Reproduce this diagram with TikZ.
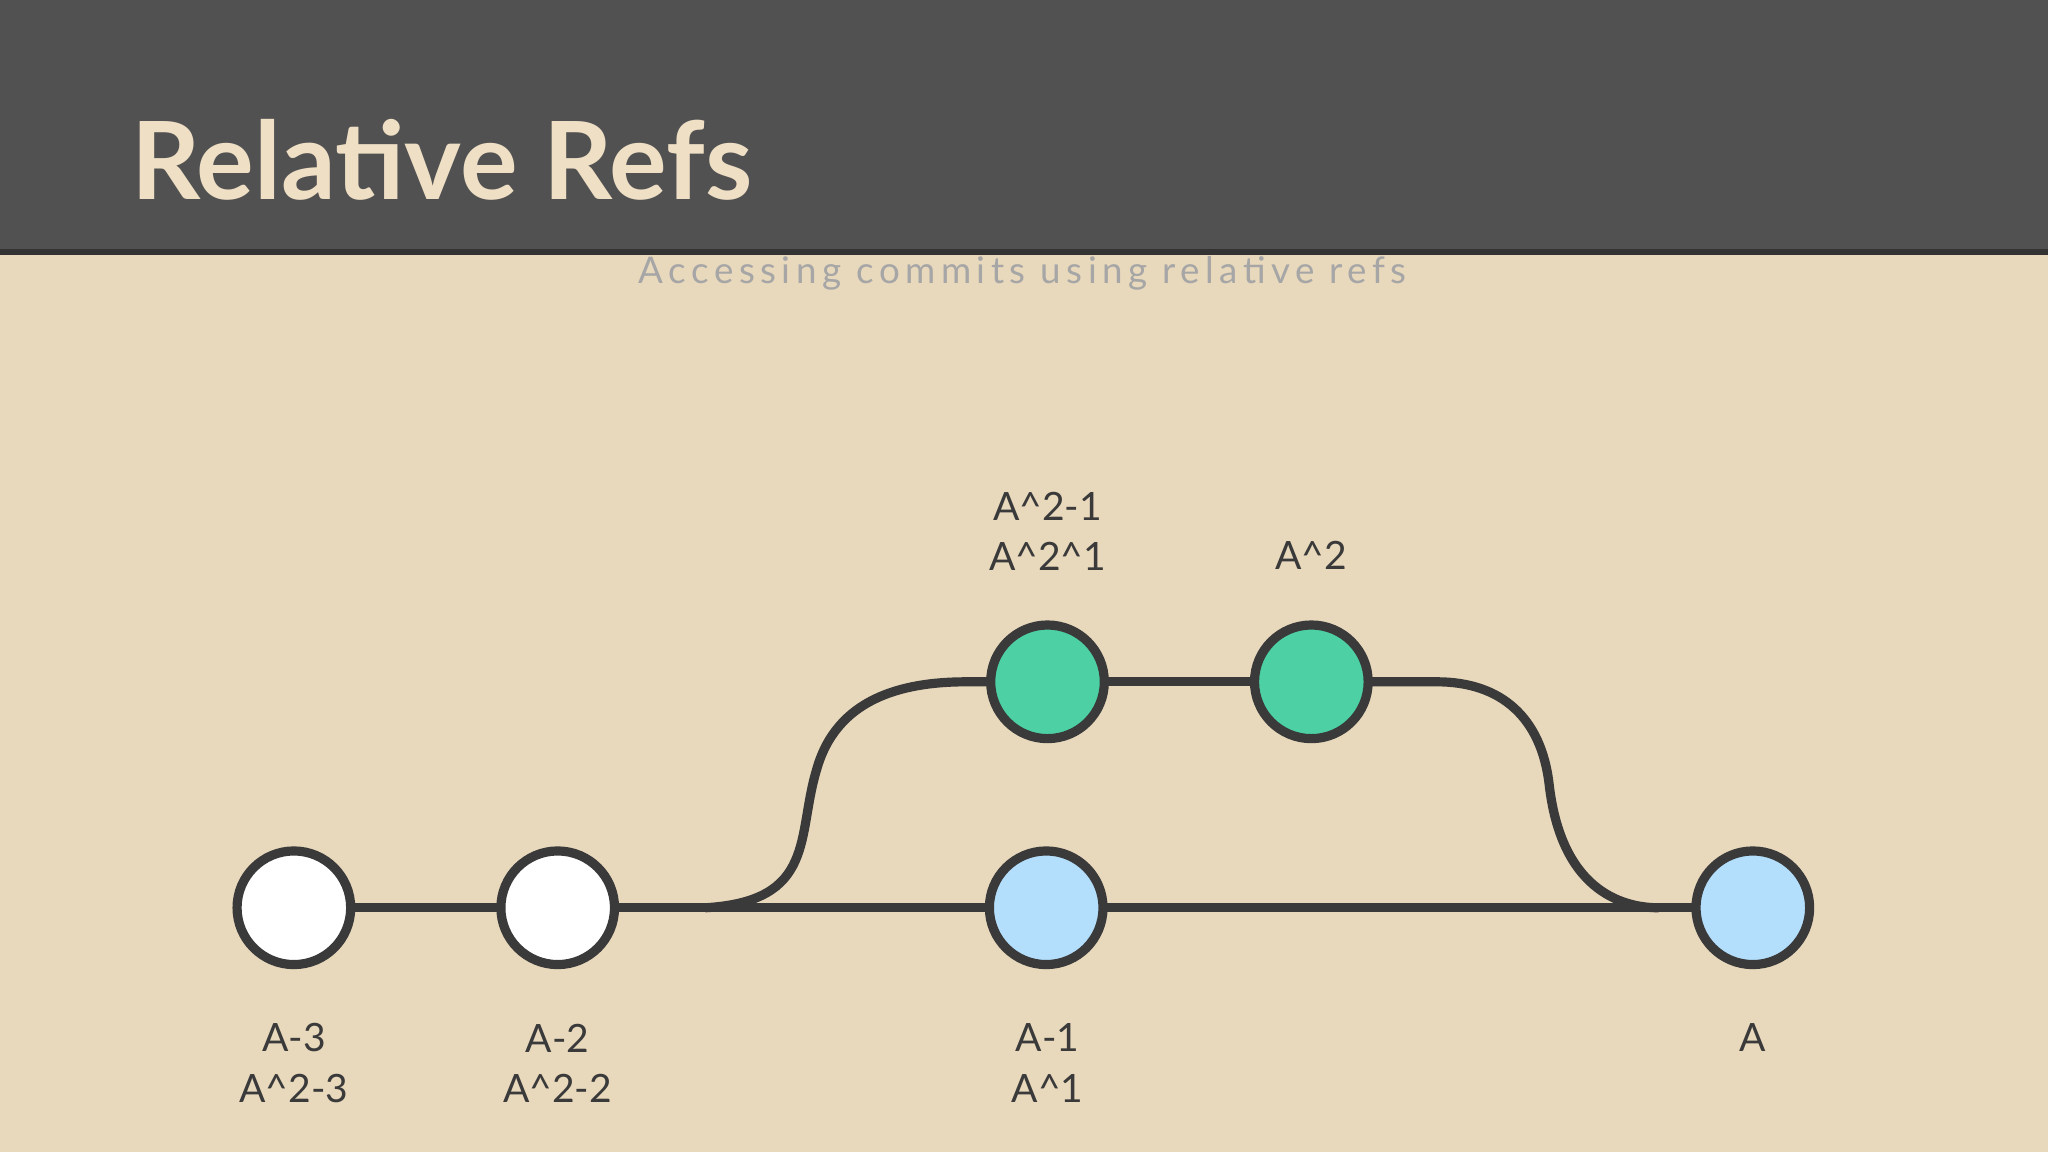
\documentclass[tikz,border=0pt]{standalone}
\usepackage{fontspec}
\setmainfont{Lato}
\definecolor{bg}{HTML}{E8D8BC}
\definecolor{hdr}{HTML}{525152}
\definecolor{ttl}{HTML}{EEDFC5}
\definecolor{ln}{HTML}{3A3A3A}
\definecolor{grn}{HTML}{4CD0A4}
\definecolor{blu}{HTML}{B3DEFC}
\begin{document}
\begin{tikzpicture}[x=0.1mm,y=-0.1mm,
  commit/.style={circle,draw=ln,line width=2pt,minimum size=8.7mm,inner sep=0pt},
  edge/.style={draw=ln,line width=2pt},
  lbl/.style={text=ln,font=\fontsize{8.5}{11}\selectfont,align=center}]
\fill[bg] (0,0) rectangle (1568,882);
\fill[hdr] (0,0) rectangle (1568,191);
\fill[black!80] (0,191) rectangle (1568,195);
\node[anchor=west,text=ttl,font=\fontsize{23.5}{28}\selectfont\bfseries] (title) at (88,122) {Relative Refs};
\node[text=black!35,font=\fontsize{8}{10}\selectfont] (sub) at (783,209) {\addfontfeature{LetterSpace=15}Accessing commits using relative refs};
\coordinate (l1) at (540,695);
\coordinate (r1) at (1270,695);
\draw[edge] (l1) .. controls (625,690) and (610,640) .. (625,590) .. controls (640,535) and (690,522) .. (740,522) -- (802,522);
\draw[edge] (1004,522) -- (1100,522) .. controls (1150,522) and (1180,550) .. (1186,600) .. controls (1195,680) and (1240,695) .. (r1);
\draw[edge] (225,695) -- (1342,695);
\draw[edge] (802,522) -- (1004,522);
\node[commit,fill=white] (a3) at (225,695) {};
\node[commit,fill=white] (a2) at (427,695) {};
\node[commit,fill=blu] (a1) at (801,695) {};
\node[commit,fill=blu] (a) at (1342,695) {};
\node[commit,fill=grn] (g1) at (802,522) {};
\node[commit,fill=grn] (g2) at (1004,522) {};
\node[lbl] (t3) at (225,814) {A-3\\A\^{}2-3};
\node[lbl] (t2) at (427,814) {A-2\\A\^{}2-2};
\node[lbl] (t1) at (802,814) {A-1\\A\^{}1};
\node[lbl] (t0) at (1342,794) {A};
\node[lbl] (tg1) at (802,407) {A\^{}2-1\\A\^{}2\^{}1};
\node[lbl] (tg2) at (1004,425) {A\^{}2};
\end{tikzpicture}
\end{document}
